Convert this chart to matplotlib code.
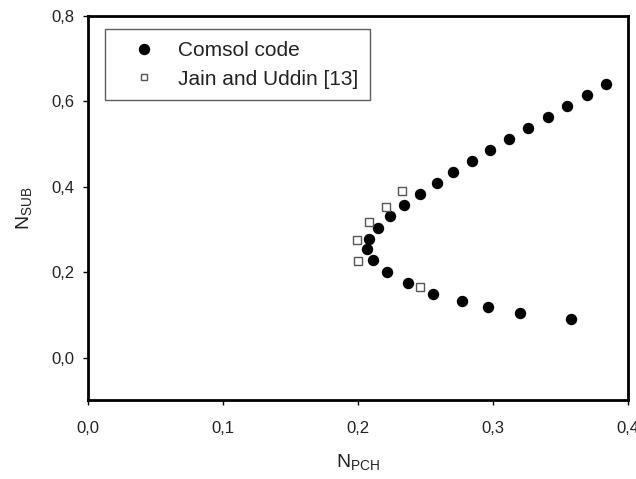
import matplotlib
matplotlib.use("Agg")
import matplotlib.pyplot as plt
from matplotlib.ticker import FuncFormatter

plt.rcParams['font.family'] = ['Liberation Sans', 'DejaVu Sans']
plt.rcParams['mathtext.fontset'] = 'custom'
plt.rcParams['mathtext.rm'] = 'Liberation Sans'
plt.rcParams['mathtext.it'] = 'Liberation Sans'

# Comsol code
comsol_x = [0.3837, 0.3694, 0.3550, 0.3405, 0.3262, 0.3119, 0.2980, 0.2844,
            0.2706, 0.2583, 0.2462, 0.2341, 0.2237, 0.2146, 0.2079, 0.2064,
            0.2109, 0.2213, 0.2373, 0.2553, 0.2767, 0.2961, 0.3202, 0.3580]
comsol_y = [0.641, 0.616, 0.590, 0.563, 0.538, 0.512, 0.486, 0.461,
            0.434, 0.409, 0.383, 0.357, 0.331, 0.304, 0.279, 0.254,
            0.228, 0.201, 0.175, 0.149, 0.134, 0.1185, 0.1045, 0.0897]

# Jain and Uddin [13]
jain_x = [0.2328, 0.2207, 0.2084, 0.1995, 0.2002, 0.2459]
jain_y = [0.3895, 0.353, 0.317, 0.2754, 0.227, 0.166]

fig = plt.figure(figsize=(6.36, 4.79), dpi=100)
ax = fig.add_axes([0.1384, 0.1639, 0.849, 0.8027])

ax.plot(comsol_x, comsol_y, 'o', color='black', markersize=7.2,
        linestyle='none', label='Comsol code')
ax.plot(jain_x, jain_y, 's', markerfacecolor='white', markeredgecolor='#555555',
        markeredgewidth=1.0, markersize=6, linestyle='none',
        label='Jain and Uddin [13]')

ax.set_xlim(0, 0.4)
ax.set_ylim(-0.1, 0.8)
ax.set_xticks([0.0, 0.1, 0.2, 0.3, 0.4])
ax.set_yticks([0.0, 0.2, 0.4, 0.6, 0.8])
comma = FuncFormatter(lambda v, p: '{:.1f}'.format(v).replace('.', ','))
ax.xaxis.set_major_formatter(comma)
ax.yaxis.set_major_formatter(comma)

for s in ax.spines.values():
    s.set_linewidth(2)
ax.tick_params(direction='out', length=3.5, width=1, labelsize=12,
               labelcolor='#222222')
ax.tick_params(axis='x', pad=11)
ax.tick_params(axis='y', pad=6.5)

ax.set_xlabel(r'N$_{\mathrm{PCH}}$', fontsize=14, color='#222222')
ax.set_ylabel(r'N$_{\mathrm{SUB}}$', fontsize=14, color='#222222')
ax.xaxis.set_label_coords(0.5, -0.135)
ax.yaxis.set_label_coords(-0.1, 0.5)

leg = ax.legend(loc='upper left', bbox_to_anchor=(0.0315, 0.965),
                borderaxespad=0, fontsize=15, frameon=True, fancybox=False,
                edgecolor='#333333', handletextpad=0.3, borderpad=0.55,
                labelspacing=0.47, handlelength=2.65)
leg.get_frame().set_linewidth(1.0)
leg.legend_handles[1].set_markersize(5)
for t in leg.get_texts():
    t.set_color('#222222')

fig.savefig('out.png', dpi=100)
